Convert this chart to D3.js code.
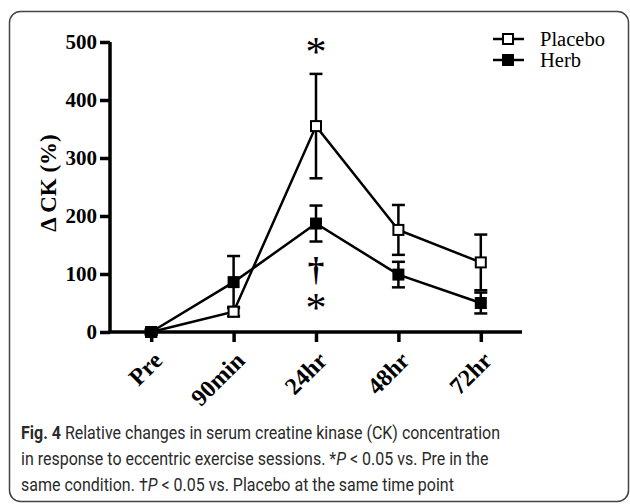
<!DOCTYPE html>
<html><head><meta charset="utf-8">
<script src="https://cdn.jsdelivr.net/npm/d3@7"></script>
<style>body{margin:0;background:#fff}svg{display:block}</style>
</head><body>
<script>
const categories = ["Pre","90min","24hr","48hr","72hr"];
const placebo = [0, 35, 355, 176, 120];
const placeboErr = [4, 8, 90, 43, 48];
const herb = [0, 86, 187, 99, 50];
const herbErr = [4, 45, 31, 22, 18];
const yTicks = [0,100,200,300,400,500];
const seriesNames = ["Placebo","Herb"];

const W=630,H=504;
const svg=d3.select("body").append("svg").attr("width",W).attr("height",H);
svg.append("rect").attr("x",9.5).attr("y",11.5).attr("width",619).attr("height",490).attr("rx",11)
  .attr("fill","#fff").attr("stroke","#444").attr("stroke-width",1.5);

const x=d3.scalePoint().domain(categories).range([110,522]).padding(0.5);
const y=d3.scaleLinear().domain([0,500]).range([332,42]);
const serif="'Liberation Serif','Times New Roman',serif";

// axes
const yAx=svg.append("g").attr("transform","translate(110,0)")
  .call(d3.axisLeft(y).tickValues(yTicks).tickSize(10).tickSizeOuter(0).tickPadding(3));
const xAx=svg.append("g").attr("transform","translate(0,332)")
  .call(d3.axisBottom(x).tickSize(10).tickSizeOuter(0));
[yAx,xAx].forEach(g=>{
  g.select(".domain").attr("stroke","#000").attr("stroke-width",3.5);
  g.selectAll(".tick line").attr("stroke","#000").attr("stroke-width",3.5);
  g.selectAll("text").attr("font-family",serif).attr("font-weight","bold").attr("font-size",21).attr("fill","#000");
});
yAx.select(".domain").attr("d","M0,332V42");
xAx.select(".domain").attr("d","M108.5,0H522");
xAx.selectAll(".tick text").attr("text-anchor","end").attr("dy",0).attr("y",0).attr("font-size",24)
  .attr("transform","translate(12,30) rotate(-45)");

svg.append("text").attr("transform","translate(56,183) rotate(-90)").attr("text-anchor","middle")
  .attr("font-family",serif).attr("font-weight","bold").attr("font-size",23).text("Δ CK (%)");

const line=d3.line().x((d,i)=>x(categories[i])).y(d=>y(d));
const series=[{v:placebo,e:placeboErr,fill:"#fff"},{v:herb,e:herbErr,fill:"#000"}];
series.forEach(s=>{
  svg.append("path").attr("d",line(s.v)).attr("fill","none").attr("stroke","#000").attr("stroke-width",2.5);
});
series.forEach(s=>{
  const g=svg.append("g").attr("stroke","#000").attr("stroke-width",2.5);
  s.v.forEach((v,i)=>{
    const cx=x(categories[i]);
    const t=y(v+s.e[i]), b=y(v-s.e[i]);
    g.append("line").attr("x1",cx).attr("x2",cx).attr("y1",t).attr("y2",b);
    g.append("line").attr("x1",cx-6.5).attr("x2",cx+6.5).attr("y1",t).attr("y2",t);
    g.append("line").attr("x1",cx-6.5).attr("x2",cx+6.5).attr("y1",b).attr("y2",b);
  });
});
series.forEach(s=>{
  s.v.forEach((v,i)=>{
    svg.append("rect").attr("x",x(categories[i])-5).attr("y",y(v)-5).attr("width",10).attr("height",10)
      .attr("fill",s.fill).attr("stroke","#000").attr("stroke-width",2);
  });
});

// annotations
const c24=x("24hr");
svg.append("text").attr("x",c24).attr("y",66).attr("text-anchor","middle")
  .attr("font-family",serif).attr("font-size",42).text("*");
svg.append("text").attr("x",c24).attr("y",281).attr("text-anchor","middle")
  .attr("font-family",serif).attr("font-weight","bold").attr("font-size",33).text("†");
svg.append("text").attr("x",c24).attr("y",322).attr("text-anchor","middle")
  .attr("font-family",serif).attr("font-size",42).text("*");

// legend
seriesNames.forEach((n,i)=>{
  const ly=39+i*21;
  svg.append("line").attr("x1",493).attr("x2",524).attr("y1",ly).attr("y2",ly).attr("stroke","#000").attr("stroke-width",2.5);
  svg.append("rect").attr("x",503).attr("y",ly-5).attr("width",10).attr("height",10)
    .attr("fill",series[i].fill).attr("stroke","#000").attr("stroke-width",2);
  svg.append("text").attr("x",540).attr("y",ly+7).attr("font-family",serif).attr("font-size",20.5).text(n);
});

// caption
const cap=svg.append("g").attr("font-family","Roboto, sans-serif").attr("font-size",18.5).attr("fill","#2a2a2a")
  .attr("transform","translate(21,0) scale(0.865,1)");
const l1=cap.append("text").attr("x",0).attr("y",439);
l1.append("tspan").attr("font-weight","bold").text("Fig. 4");
l1.append("tspan").text(" Relative changes in serum creatine kinase (CK) concentration");
const l2=cap.append("text").attr("x",0).attr("y",465);
l2.append("tspan").text("in response to eccentric exercise sessions. *");
l2.append("tspan").attr("font-style","italic").text("P");
l2.append("tspan").text(" < 0.05 vs. Pre in the");
const l3=cap.append("text").attr("x",0).attr("y",491);
l3.append("tspan").text("same condition. †");
l3.append("tspan").attr("font-style","italic").text("P");
l3.append("tspan").text(" < 0.05 vs. Placebo at the same time point");
</script>
</body></html>
